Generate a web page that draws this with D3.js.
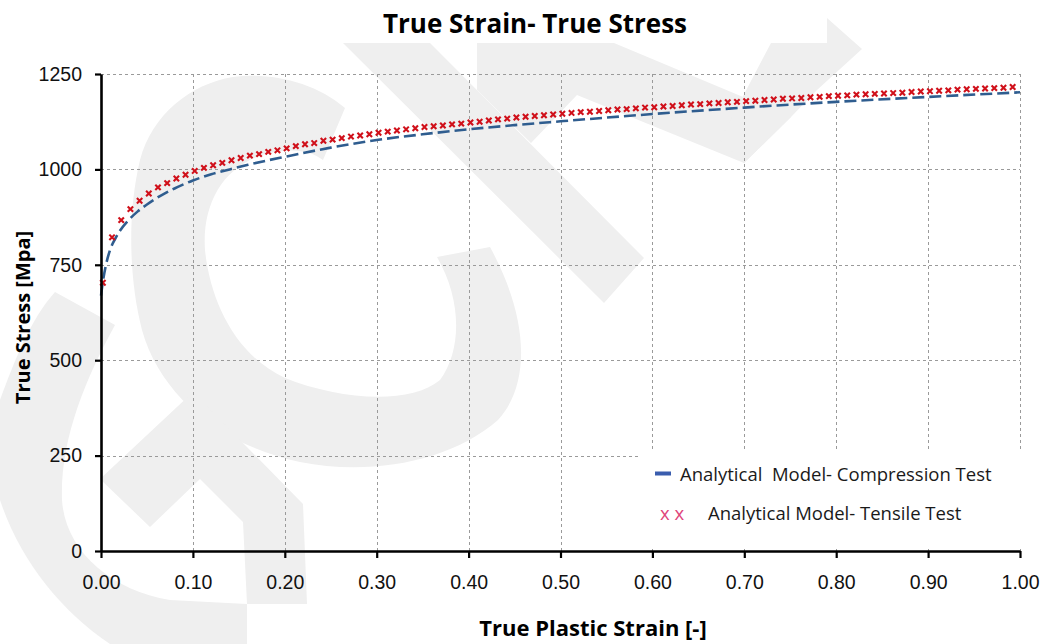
<!DOCTYPE html>
<html>
<head>
<meta charset="utf-8">
<script src="https://cdn.jsdelivr.net/npm/d3@7"></script>
<style>
  html, body { margin: 0; padding: 0; background: #fff; }
  svg { display: block; }
</style>
</head>
<body>
<svg id="chart" width="1048" height="644"></svg>
<script>
// ---- data -------------------------------------------------------------
// Tensile test model: sampled every 0.01 plastic strain
const tensileStrain = [
  0.002, 0.012, 0.022, 0.032, 0.042, 0.052, 0.062, 0.072, 0.082, 0.092,
  0.102, 0.112, 0.122, 0.132, 0.142, 0.152, 0.162, 0.172, 0.182, 0.192,
  0.202, 0.212, 0.222, 0.232, 0.242, 0.252, 0.262, 0.272, 0.282, 0.292,
  0.302, 0.312, 0.322, 0.332, 0.342, 0.352, 0.362, 0.372, 0.382, 0.392,
  0.402, 0.412, 0.422, 0.432, 0.442, 0.452, 0.462, 0.472, 0.482, 0.492,
  0.502, 0.512, 0.522, 0.532, 0.542, 0.552, 0.562, 0.572, 0.582, 0.592,
  0.602, 0.612, 0.622, 0.632, 0.642, 0.652, 0.662, 0.672, 0.682, 0.692,
  0.702, 0.712, 0.722, 0.732, 0.742, 0.752, 0.762, 0.772, 0.782, 0.792,
  0.802, 0.812, 0.822, 0.832, 0.842, 0.852, 0.862, 0.872, 0.882, 0.892,
  0.902, 0.912, 0.922, 0.932, 0.942, 0.952, 0.962, 0.972, 0.982, 0.992
];
const tensileStress = [
  703, 822, 867, 896, 918, 937, 953, 964, 976, 986,
  996, 1004, 1011, 1017, 1024, 1030, 1036, 1040, 1046, 1050,
  1055, 1061, 1066, 1069, 1075, 1078, 1082, 1086, 1089, 1092,
  1096, 1099, 1102, 1105, 1108, 1111, 1113, 1115, 1118, 1120,
  1123, 1125, 1128, 1131, 1133, 1136, 1138, 1140, 1142, 1144,
  1146, 1148, 1150, 1151, 1153, 1155, 1157, 1158, 1160, 1162,
  1163, 1165, 1166, 1168, 1170, 1171, 1173, 1174, 1176, 1177,
  1179, 1180, 1182, 1183, 1185, 1186, 1187, 1189, 1190, 1192,
  1193, 1194, 1196, 1197, 1198, 1199, 1200, 1201, 1203, 1204,
  1205, 1206, 1207, 1209, 1210, 1211, 1212, 1213, 1214, 1216
];

// Compression test model (continuous curve)
const compStrain = [0, 0.002, 0.005, 0.01, 0.015, 0.02, 0.03, 0.04, 0.05, 0.06,
  0.07, 0.08, 0.09, 0.10, 0.12, 0.14, 0.16, 0.18, 0.20, 0.25,
  0.30, 0.35, 0.40, 0.45, 0.50, 0.60, 0.70, 0.80, 0.90, 1.00];
const compStress = [669, 705, 745, 790, 816, 837, 867, 890, 908, 924,
  938, 950, 961, 971, 987, 1000, 1012, 1023, 1033, 1057,
  1077, 1092, 1105, 1116, 1126, 1145, 1162, 1177, 1190, 1202];

const xTicks = [0, 0.1, 0.2, 0.3, 0.4, 0.5, 0.6, 0.7, 0.8, 0.9, 1.0];
const yTicks = [0, 250, 500, 750, 1000, 1250];

const seriesNames = ["Analytical  Model- Compression Test", "Analytical Model- Tensile Test"];

// ---- layout -----------------------------------------------------------
const plot = { left: 101, right: 1020, top: 74, bottom: 551 };

const svg = d3.select("#chart");

const x = d3.scaleLinear().domain([0, 1]).range([plot.left, plot.right]);
const y = d3.scaleLinear().domain([0, 1250]).range([plot.bottom, plot.top]);

// ---- background logo (light grey) -------------------------------------
const logoShapes = [
  // large open ring
  "M345,108 C315,82 270,72 233,77 C190,84 152,115 140,160 C128,210 128,275 142,330 " +
  "C160,395 220,445 300,462 C370,476 450,462 498,420 C530,385 530,320 490,247 " +
  "L437,257 C462,300 462,350 440,380 C410,405 340,400 285,378 C235,355 210,300 205,250 " +
  "C202,205 222,168 262,155 C290,147 310,150 323,160 Z",
  // diagonal stroke
  "M343,43 L430,43 L644,258 L604,303 Z",
  // upper arm
  "M477,43 L614,43 L791,117 L744,163 L577,95 L531,143 L477,90 Z",
  // arrow head
  "M771,43 L827,43 L827,18 L862,49 L817,90 L791,117 L744,163 L720,140 Z",
  // lower chevron
  "M100,479 L193,392 L303,504 L307,604 L247,604 L243,522 L200,479 L150,527 Z",
  // outer sweep on the left and bottom
  "M55,292 L115,325 C85,380 60,440 62,500 C65,550 110,590 170,600 L247,604 L247,644 " +
  "L110,644 C60,610 20,560 0,500 L0,400 C15,360 30,320 55,292 Z"
];
svg.append("g")
  .selectAll("path")
  .data(logoShapes)
  .join("path")
  .attr("d", d => d)
  .attr("fill", "#efefef");

// ---- grid -------------------------------------------------------------
const grid = svg.append("g").attr("stroke", "#9a9a9a").attr("stroke-width", 1)
  .attr("stroke-dasharray", "3,3").attr("fill", "none");
grid.selectAll("line.h")
  .data(yTicks.filter(v => v > 0))
  .join("line")
  .attr("class", "h")
  .attr("x1", plot.left).attr("x2", plot.right)
  .attr("y1", d => Math.round(y(d)) + 0.5).attr("y2", d => Math.round(y(d)) + 0.5);
grid.selectAll("line.v")
  .data(xTicks.filter(v => v > 0))
  .join("line")
  .attr("class", "v")
  .attr("x1", d => Math.round(x(d)) + 0.5).attr("x2", d => Math.round(x(d)) + 0.5)
  .attr("y1", plot.top).attr("y2", plot.bottom);

// ---- legend panel (covers the grid behind it) -------------------------
const legend = svg.append("g");
legend.append("rect")
  .attr("x", 641).attr("y", 450).attr("width", 390).attr("height", 99)
  .attr("fill", "#fff");

// ---- series -----------------------------------------------------------
const compData = compStrain.map((s, i) => ({ s, v: compStress[i] }));
const line = d3.line()
  .x(d => x(d.s)).y(d => y(d.v))
  .curve(d3.curveMonotoneX);
svg.append("path")
  .datum(compData)
  .attr("d", line)
  .attr("fill", "none")
  .attr("stroke", "#2f5d8f")
  .attr("stroke-width", 2.6)
  .attr("stroke-dasharray", "12,5");

const tensData = tensileStrain.map((s, i) => ({ s, v: tensileStress[i] }));
const cross = "M-2.7,-2.7L2.7,2.7M-2.7,2.7L2.7,-2.7";
svg.append("g")
  .selectAll("path")
  .data(tensData)
  .join("path")
  .attr("transform", d => `translate(${x(d.s)},${y(d.v)})`)
  .attr("d", cross)
  .attr("fill", "none")
  .attr("stroke", "#d0101a")
  .attr("stroke-width", 2.1);

// ---- axes -------------------------------------------------------------
const tickFont = "'Liberation Sans Narrow', 'Arial Narrow', sans-serif";

const yAxis = svg.append("g")
  .attr("transform", `translate(${plot.left},0)`)
  .call(d3.axisLeft(y).tickValues(yTicks).tickSize(6).tickSizeOuter(0).tickPadding(13)
    .tickFormat(d3.format("d")));
const xAxis = svg.append("g")
  .attr("transform", `translate(0,${plot.bottom})`)
  .call(d3.axisBottom(x).tickValues(xTicks).tickSize(7).tickSizeOuter(0).tickPadding(17)
    .tickFormat(d3.format(".2f")));

[yAxis, xAxis].forEach(a => {
  a.select(".domain").attr("stroke", "#000").attr("stroke-width", 2.6);
  a.selectAll(".tick line").attr("stroke", "#000").attr("stroke-width", 2.2);
  a.selectAll(".tick text")
    .attr("fill", "#111")
    .style("font-family", tickFont)
    .style("font-size", "19.5px");
});

// ---- titles -----------------------------------------------------------
const titleFont = "'Open Sans', 'Noto Sans', sans-serif";
svg.append("text")
  .attr("x", 535).attr("y", 33)
  .attr("text-anchor", "middle")
  .style("font-family", titleFont).style("font-weight", 700).style("font-size", "26px")
  .attr("fill", "#000")
  .text("True Strain- True Stress");

svg.append("text")
  .attr("transform", "translate(29.5,317.5) rotate(-90)")
  .attr("text-anchor", "middle")
  .style("font-family", titleFont).style("font-weight", 700).style("font-size", "20px")
  .attr("fill", "#000")
  .text("True Stress [Mpa]");

svg.append("text")
  .attr("x", 593).attr("y", 636)
  .attr("text-anchor", "middle")
  .style("font-family", titleFont).style("font-weight", 700).style("font-size", "22px")
  .attr("fill", "#000")
  .text("True Plastic Strain [-]");

// ---- legend entries ---------------------------------------------------
legend.append("rect")
  .attr("x", 655).attr("y", 471.5).attr("width", 16).attr("height", 4)
  .attr("fill", "#3a5dae");
legend.append("text")
  .attr("x", 680).attr("y", 481)
  .style("font-family", titleFont).style("font-size", "18.5px")
  .attr("fill", "#1a1a1a")
  .style("white-space", "pre")
  .attr("xml:space", "preserve")
  .text(seriesNames[0]);
legend.append("text")
  .attr("x", 660).attr("y", 519.5)
  .style("font-family", titleFont).style("font-size", "18.5px")
  .attr("fill", "#e0457b")
  .text("x x");
legend.append("text")
  .attr("x", 708).attr("y", 519.5)
  .style("font-family", titleFont).style("font-size", "18.5px")
  .attr("fill", "#1a1a1a")
  .text(seriesNames[1]);
</script>
</body>
</html>
